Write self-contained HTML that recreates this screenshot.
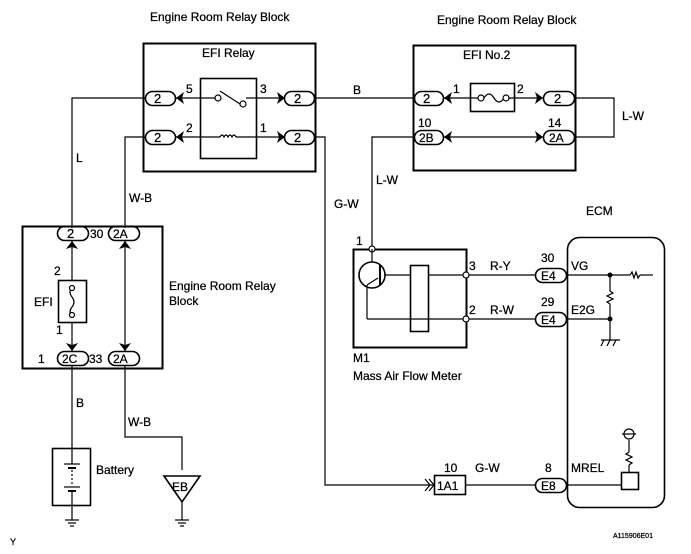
<!DOCTYPE html>
<html><head><meta charset="utf-8"><style>
html,body{margin:0;padding:0;background:#fff;}
svg{display:block;font-family:"Liberation Sans",Arial,sans-serif;}
text{fill:#000;stroke:#000;stroke-width:0.25;}
</style></head><body>
<svg width="691" height="554" viewBox="0 0 691 554" xmlns="http://www.w3.org/2000/svg">
<g stroke="#000" fill="none" stroke-width="1.2">
<!-- EFI relay block -->
<rect x="143.5" y="43.5" width="172" height="128" stroke-width="2"/>
<rect x="200.5" y="78.5" width="56" height="80" stroke-width="1.6"/>
<line x1="175" y1="98" x2="215" y2="98"/>
<circle cx="218" cy="98" r="3" fill="#fff"/>
<line x1="220" y1="91" x2="240" y2="104"/>
<circle cx="243" cy="104" r="3" fill="#fff"/>
<line x1="246" y1="98" x2="285" y2="98"/>
<line x1="175" y1="137" x2="220" y2="137"/>
<path d="M220 137 q2 -4 4 0 q2 -4 4 0 q2 -4 4 0 q2 -4 4 0"/>
<line x1="236" y1="137" x2="285" y2="137"/>
<g stroke-width="1.6">
<rect x="145.5" y="91.5" width="30" height="14" rx="7"/>
<rect x="145.5" y="130.5" width="30" height="14" rx="7"/>
<rect x="284.5" y="91.5" width="30" height="14" rx="7"/>
<rect x="284.5" y="130.5" width="30" height="14" rx="7"/>
</g>
<!-- wires -->
<polyline points="145,98 72,98 72,228"/>
<polyline points="145,137 125,137 125,228"/>
<polyline points="315,98 414,98"/>
<polyline points="315,137 325,137 325,485 434,485"/>
<!-- EFI No.2 -->
<rect x="413.5" y="45.5" width="162" height="125" stroke-width="2"/>
<rect x="470.5" y="83.5" width="44" height="28" stroke-width="1.6"/>
<line x1="443" y1="98" x2="478" y2="98"/>
<circle cx="481" cy="98" r="3" fill="#fff"/>
<path d="M484 98 q5 -8 10 0 q5 8 10 0"/>
<circle cx="506" cy="98" r="3" fill="#fff"/>
<line x1="509" y1="98" x2="543" y2="98"/>
<line x1="443" y1="137" x2="543" y2="137"/>
<g stroke-width="1.6">
<rect x="414.5" y="91.5" width="29" height="14" rx="7"/>
<rect x="414.5" y="130.5" width="29" height="14" rx="7"/>
<rect x="543.5" y="91.5" width="31" height="14" rx="7"/>
<rect x="543.5" y="130.5" width="31" height="14" rx="7"/>
</g>
<polyline points="575,98 614,98 614,137 575,137"/>
<polyline points="414,137 372,137 372,249"/>
<!-- MAF -->
<rect x="353.5" y="249.5" width="113" height="98" stroke-width="2"/>
<circle cx="372" cy="249" r="3" fill="#fff"/>
<circle cx="372" cy="275" r="13" stroke-width="1.6"/>
<line x1="380" y1="265" x2="380" y2="285" stroke-width="2"/>
<line x1="372" y1="262" x2="372" y2="249"/>
<line x1="367" y1="319" x2="367" y2="285"/>
<line x1="367" y1="285" x2="378" y2="278"/>
<line x1="385" y1="275" x2="410" y2="275"/>
<rect x="410.5" y="265.5" width="18" height="66" stroke-width="1.6"/>
<line x1="429" y1="275" x2="463" y2="275"/>
<polyline points="367,319 463,319"/>
<circle cx="466" cy="275" r="3" fill="#fff"/>
<circle cx="466" cy="319" r="3" fill="#fff"/>
<line x1="469" y1="275" x2="535" y2="275"/>
<line x1="469" y1="319" x2="535" y2="319"/>
<!-- ECM -->
<rect x="567.5" y="237.5" width="97" height="270" rx="12" stroke-width="1.6"/>
<g stroke-width="1.6">
<rect x="535.5" y="268.5" width="31" height="14" rx="7"/>
<rect x="535.5" y="312.5" width="31" height="14" rx="7"/>
<rect x="535.5" y="478.5" width="31" height="14" rx="7"/>
</g>
<line x1="567" y1="275" x2="630" y2="275"/>
<path d="M630 275 l2 -3 l2 6 l2 -6 l2 6 l2 -3"/>
<line x1="640" y1="275" x2="653" y2="275"/>
<line x1="610" y1="275" x2="610" y2="291"/>
<path d="M610 291 l3 2 l-6 3 l6 3 l-6 3 l3 2"/>
<line x1="610" y1="304" x2="610" y2="340"/>
<line x1="567" y1="319" x2="610" y2="319"/>
<line x1="601" y1="340" x2="620" y2="340"/>
<line x1="604" y1="340" x2="601" y2="346"/><line x1="610" y1="340" x2="607" y2="346"/><line x1="616" y1="340" x2="613" y2="346"/>
<line x1="567" y1="485" x2="621" y2="485"/>
<rect x="621.5" y="472.5" width="17" height="17" stroke-width="1.6"/>
<line x1="629" y1="472" x2="629" y2="465"/>
<path d="M629 465 l3 -2 l-6 -3 l6 -3 l-6 -3 l3 -2"/>
<line x1="629" y1="452" x2="629" y2="440"/>
<circle cx="629" cy="434" r="5"/>
<line x1="622" y1="434" x2="636" y2="434"/>
<!-- 1A1 -->
<rect x="434.5" y="475.5" width="31" height="19" stroke-width="1.6"/>
<polyline points="425,479 430,485 425,491"/>
<polyline points="429,479 434,485 429,491"/>
<line x1="466" y1="485" x2="535" y2="485"/>
<!-- lower relay block -->
<rect x="22.5" y="226.5" width="140" height="142" stroke-width="2"/>
<g stroke-width="1.6">
<rect x="57.5" y="226.5" width="31" height="14" rx="7"/>
<rect x="108.5" y="226.5" width="31" height="14" rx="7"/>
<rect x="57.5" y="351.5" width="31" height="14" rx="7"/>
<rect x="108.5" y="351.5" width="31" height="14" rx="7"/>
</g>
<line x1="72" y1="241" x2="72" y2="351"/>
<line x1="125" y1="241" x2="125" y2="351"/>
<rect x="58.5" y="280.5" width="28" height="42" fill="#fff" stroke-width="1.6"/>
<path d="M72 287 q-4 5 0 10 q4 5 0 10 q-4 5 0 10"/>
<circle cx="72" cy="288" r="2.5" fill="#fff"/>
<circle cx="72" cy="315" r="2.5" fill="#fff"/>
<line x1="72" y1="366" x2="72" y2="448"/>
<polyline points="125,366 125,437 182,437 182,470"/>
<!-- battery -->
<rect x="52.5" y="448.5" width="38" height="57" stroke-width="1.6"/>
<line x1="72" y1="448" x2="72" y2="464"/>
<line x1="64" y1="464" x2="80" y2="464"/>
<line x1="68" y1="468" x2="76" y2="468" stroke-width="2"/>
<line x1="72" y1="470" x2="72" y2="486" stroke-dasharray="2,2"/>
<line x1="64" y1="487" x2="80" y2="487"/>
<line x1="68" y1="491" x2="76" y2="491" stroke-width="2"/>
<line x1="72" y1="491" x2="72" y2="520"/>
<line x1="65" y1="520" x2="79" y2="520"/><line x1="68" y1="523" x2="76" y2="523"/><line x1="70" y1="526" x2="74" y2="526"/>
<!-- EB ground -->
<polygon points="164,476 200,476 182,502" stroke-width="1.6"/>
<line x1="182" y1="502" x2="182" y2="520"/>
<line x1="175" y1="520" x2="189" y2="520"/><line x1="178" y1="523" x2="186" y2="523"/><line x1="180" y1="526" x2="184" y2="526"/>
</g>
<g fill="#000">
<path d="M176 98 l8 -6 l-2 6 l2 6 z"/>
<path d="M176 137 l8 -6 l-2 6 l2 6 z"/>
<path d="M285 98 l-8 -6 l2 6 l-2 6 z"/>
<path d="M285 137 l-8 -6 l2 6 l-2 6 z"/>
<path d="M444 98 l8 -6 l-2 6 l2 6 z"/>
<path d="M444 137 l8 -6 l-2 6 l2 6 z"/>
<path d="M543 98 l-8 -6 l2 6 l-2 6 z"/>
<path d="M543 137 l-8 -6 l2 6 l-2 6 z"/>
<path d="M72 241 l-6 8 l6 -2 l6 2 z"/>
<path d="M125 241 l-6 8 l6 -2 l6 2 z"/>
<path d="M72 351 l-6 -8 l6 2 l6 -2 z"/>
<path d="M125 351 l-6 -8 l6 2 l6 -2 z"/>
<circle cx="610" cy="275" r="2.5"/>
<circle cx="610" cy="319" r="2.5"/>
</g>
<g font-size="12">
<text x="150" y="21">Engine Room Relay Block</text>
<text x="437" y="24">Engine Room Relay Block</text>
<text x="202" y="57">EFI Relay</text>
<text x="463" y="59">EFI  No.2</text>
<text x="154" y="103" font-size="13">2</text>
<text x="154" y="142" font-size="13">2</text>
<text x="294" y="103" font-size="13">2</text>
<text x="294" y="142" font-size="13">2</text>
<text x="186" y="93">5</text>
<text x="186" y="132">2</text>
<text x="260" y="93">3</text>
<text x="260" y="132">1</text>
<text x="423" y="103" font-size="13">2</text>
<text x="419" y="142">2B</text>
<text x="554" y="103" font-size="13">2</text>
<text x="549" y="142">2A</text>
<text x="453" y="93">1</text>
<text x="517" y="93">2</text>
<text x="418" y="127">10</text>
<text x="548" y="127">14</text>
<text x="353" y="94">B</text>
<text x="622" y="120">L-W</text>
<text x="376" y="184">L-W</text>
<text x="334" y="208">G-W</text>
<text x="76" y="162">L</text>
<text x="129" y="202">W-B</text>
<text x="586" y="215">ECM</text>
<text x="356" y="245">1</text>
<text x="469" y="270">3</text>
<text x="469" y="314">2</text>
<text x="490" y="270">R-Y</text>
<text x="490" y="314">R-W</text>
<text x="541" y="262">30</text>
<text x="541" y="306">29</text>
<text x="541" y="280">E4</text>
<text x="541" y="324">E4</text>
<text x="571" y="270">VG</text>
<text x="571" y="314">E2G</text>
<text x="353" y="362">M1</text>
<text x="353" y="380">Mass Air Flow Meter</text>
<text x="444" y="472">10</text>
<text x="437" y="490">1A1</text>
<text x="475" y="472">G-W</text>
<text x="545" y="472">8</text>
<text x="541" y="490">E8</text>
<text x="571" y="472">MREL</text>
<text x="67" y="238" font-size="13">2</text>
<text x="90" y="238">30</text>
<text x="113" y="238">2A</text>
<text x="54" y="275">2</text>
<text x="34" y="306">EFI</text>
<text x="56" y="334">1</text>
<text x="38" y="363">1</text>
<text x="62" y="363">2C</text>
<text x="89" y="363">33</text>
<text x="113" y="363">2A</text>
<text x="169" y="290">Engine Room Relay</text>
<text x="169" y="305">Block</text>
<text x="76" y="407">B</text>
<text x="128" y="426">W-B</text>
<text x="96" y="474">Battery</text>
<text x="172" y="491">EB</text>
<text x="10" y="545" font-size="9">Y</text>
<text x="613" y="538" font-size="7">A115906E01</text>
</g>
</svg>
</body></html>
